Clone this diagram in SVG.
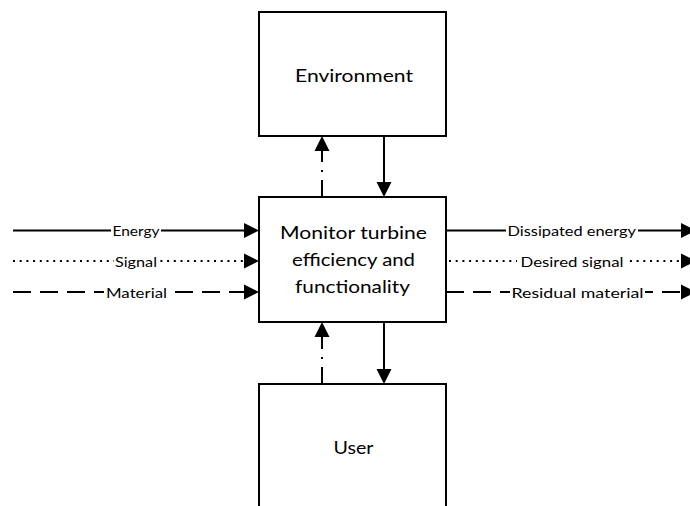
<svg xmlns="http://www.w3.org/2000/svg" width="690" height="506" viewBox="0 0 690 506">
  <style>
    .box { fill: #ffffff; stroke: #000000; stroke-width: 2; }
    .title { font-family: Lato, "Liberation Sans", sans-serif; font-size: 17px; fill: #000000; text-anchor: middle; }
    .lbl { font-family: Lato, "Liberation Sans", sans-serif; font-size: 14px; fill: #000000; }
    .flow { fill: none; stroke: #000000; stroke-width: 2; }
    .dot { stroke-dasharray: 2 4.7; }
    .dash { stroke-dasharray: 18 9; }
    .dashdot { stroke-dasharray: 17 8 2 8; }
    .bg { fill: #ffffff; }
  </style>
  <defs>
    <marker id="head" markerUnits="userSpaceOnUse" markerWidth="16" markerHeight="15" refX="0" refY="7.5" orient="auto" overflow="visible">
      <path d="M0,0 L15,7.5 L0,15 Z" fill="#000000"/>
    </marker>
  </defs>

  <rect width="690" height="506" fill="#ffffff"/>

  <g id="connectors">
    <!-- inputs on the left -->
    <line class="flow" x1="13" y1="230.5" x2="244" y2="230.5" marker-end="url(#head)"/>
    <line class="flow dot" x1="13" y1="261" x2="244" y2="261" marker-end="url(#head)"/>
    <line class="flow dash" x1="13" y1="292" x2="244" y2="292" marker-end="url(#head)"/>
    <!-- outputs on the right -->
    <line class="flow" x1="446" y1="230.5" x2="681" y2="230.5" marker-end="url(#head)"/>
    <line class="flow dot" x1="449" y1="261" x2="681" y2="261" marker-end="url(#head)"/>
    <line class="flow dash" x1="446" y1="292" x2="681" y2="292" marker-end="url(#head)"/>
    <!-- environment exchange -->
    <line class="flow dashdot" x1="322" y1="197" x2="322" y2="151" marker-end="url(#head)"/>
    <line class="flow" x1="384" y1="136" x2="384" y2="182" marker-end="url(#head)"/>
    <!-- user exchange -->
    <line class="flow dashdot" x1="322" y1="384" x2="322" y2="337" marker-end="url(#head)"/>
    <line class="flow" x1="384" y1="322" x2="384" y2="369" marker-end="url(#head)"/>

    <!-- labels on the flows -->
    <rect class="bg" x="111" y="222" width="50" height="18"/>
    <text class="lbl" x="112.5" y="236" textLength="47" lengthAdjust="spacingAndGlyphs">Energy</text>
    <rect class="bg" x="114" y="252" width="44" height="18"/>
    <text class="lbl" x="115" y="266.5" textLength="42" lengthAdjust="spacingAndGlyphs">Signal</text>
    <rect class="bg" x="104" y="283" width="64" height="18"/>
    <text class="lbl" x="106" y="297.5" textLength="61" lengthAdjust="spacingAndGlyphs">Material</text>

    <rect class="bg" x="506" y="222" width="132" height="18"/>
    <text class="lbl" x="507.5" y="236" textLength="128.5" lengthAdjust="spacingAndGlyphs">Dissipated energy</text>
    <rect class="bg" x="517" y="252" width="109" height="18"/>
    <text class="lbl" x="520.5" y="266.5" textLength="103" lengthAdjust="spacingAndGlyphs">Desired signal</text>
    <rect class="bg" x="510" y="283" width="135" height="18"/>
    <text class="lbl" x="511.5" y="297.5" textLength="132" lengthAdjust="spacingAndGlyphs">Residual material</text>
  </g>

  <g id="environment">
    <rect class="box" x="259" y="12" width="187" height="124"/>
    <text class="title" x="354" y="81.5" textLength="118" lengthAdjust="spacingAndGlyphs">Environment</text>
  </g>

  <g id="monitor">
    <rect class="box" x="259" y="197" width="187" height="125"/>
    <text class="title" x="353.5" y="239" textLength="147" lengthAdjust="spacingAndGlyphs">Monitor turbine</text>
    <text class="title" x="353.5" y="266" textLength="123" lengthAdjust="spacingAndGlyphs">efficiency and</text>
    <text class="title" x="352.5" y="293" textLength="115" lengthAdjust="spacingAndGlyphs">functionality</text>
  </g>

  <g id="user">
    <rect class="box" x="259" y="384" width="187" height="130"/>
    <text class="title" x="353.5" y="454" textLength="40" lengthAdjust="spacingAndGlyphs">User</text>
  </g>
</svg>
